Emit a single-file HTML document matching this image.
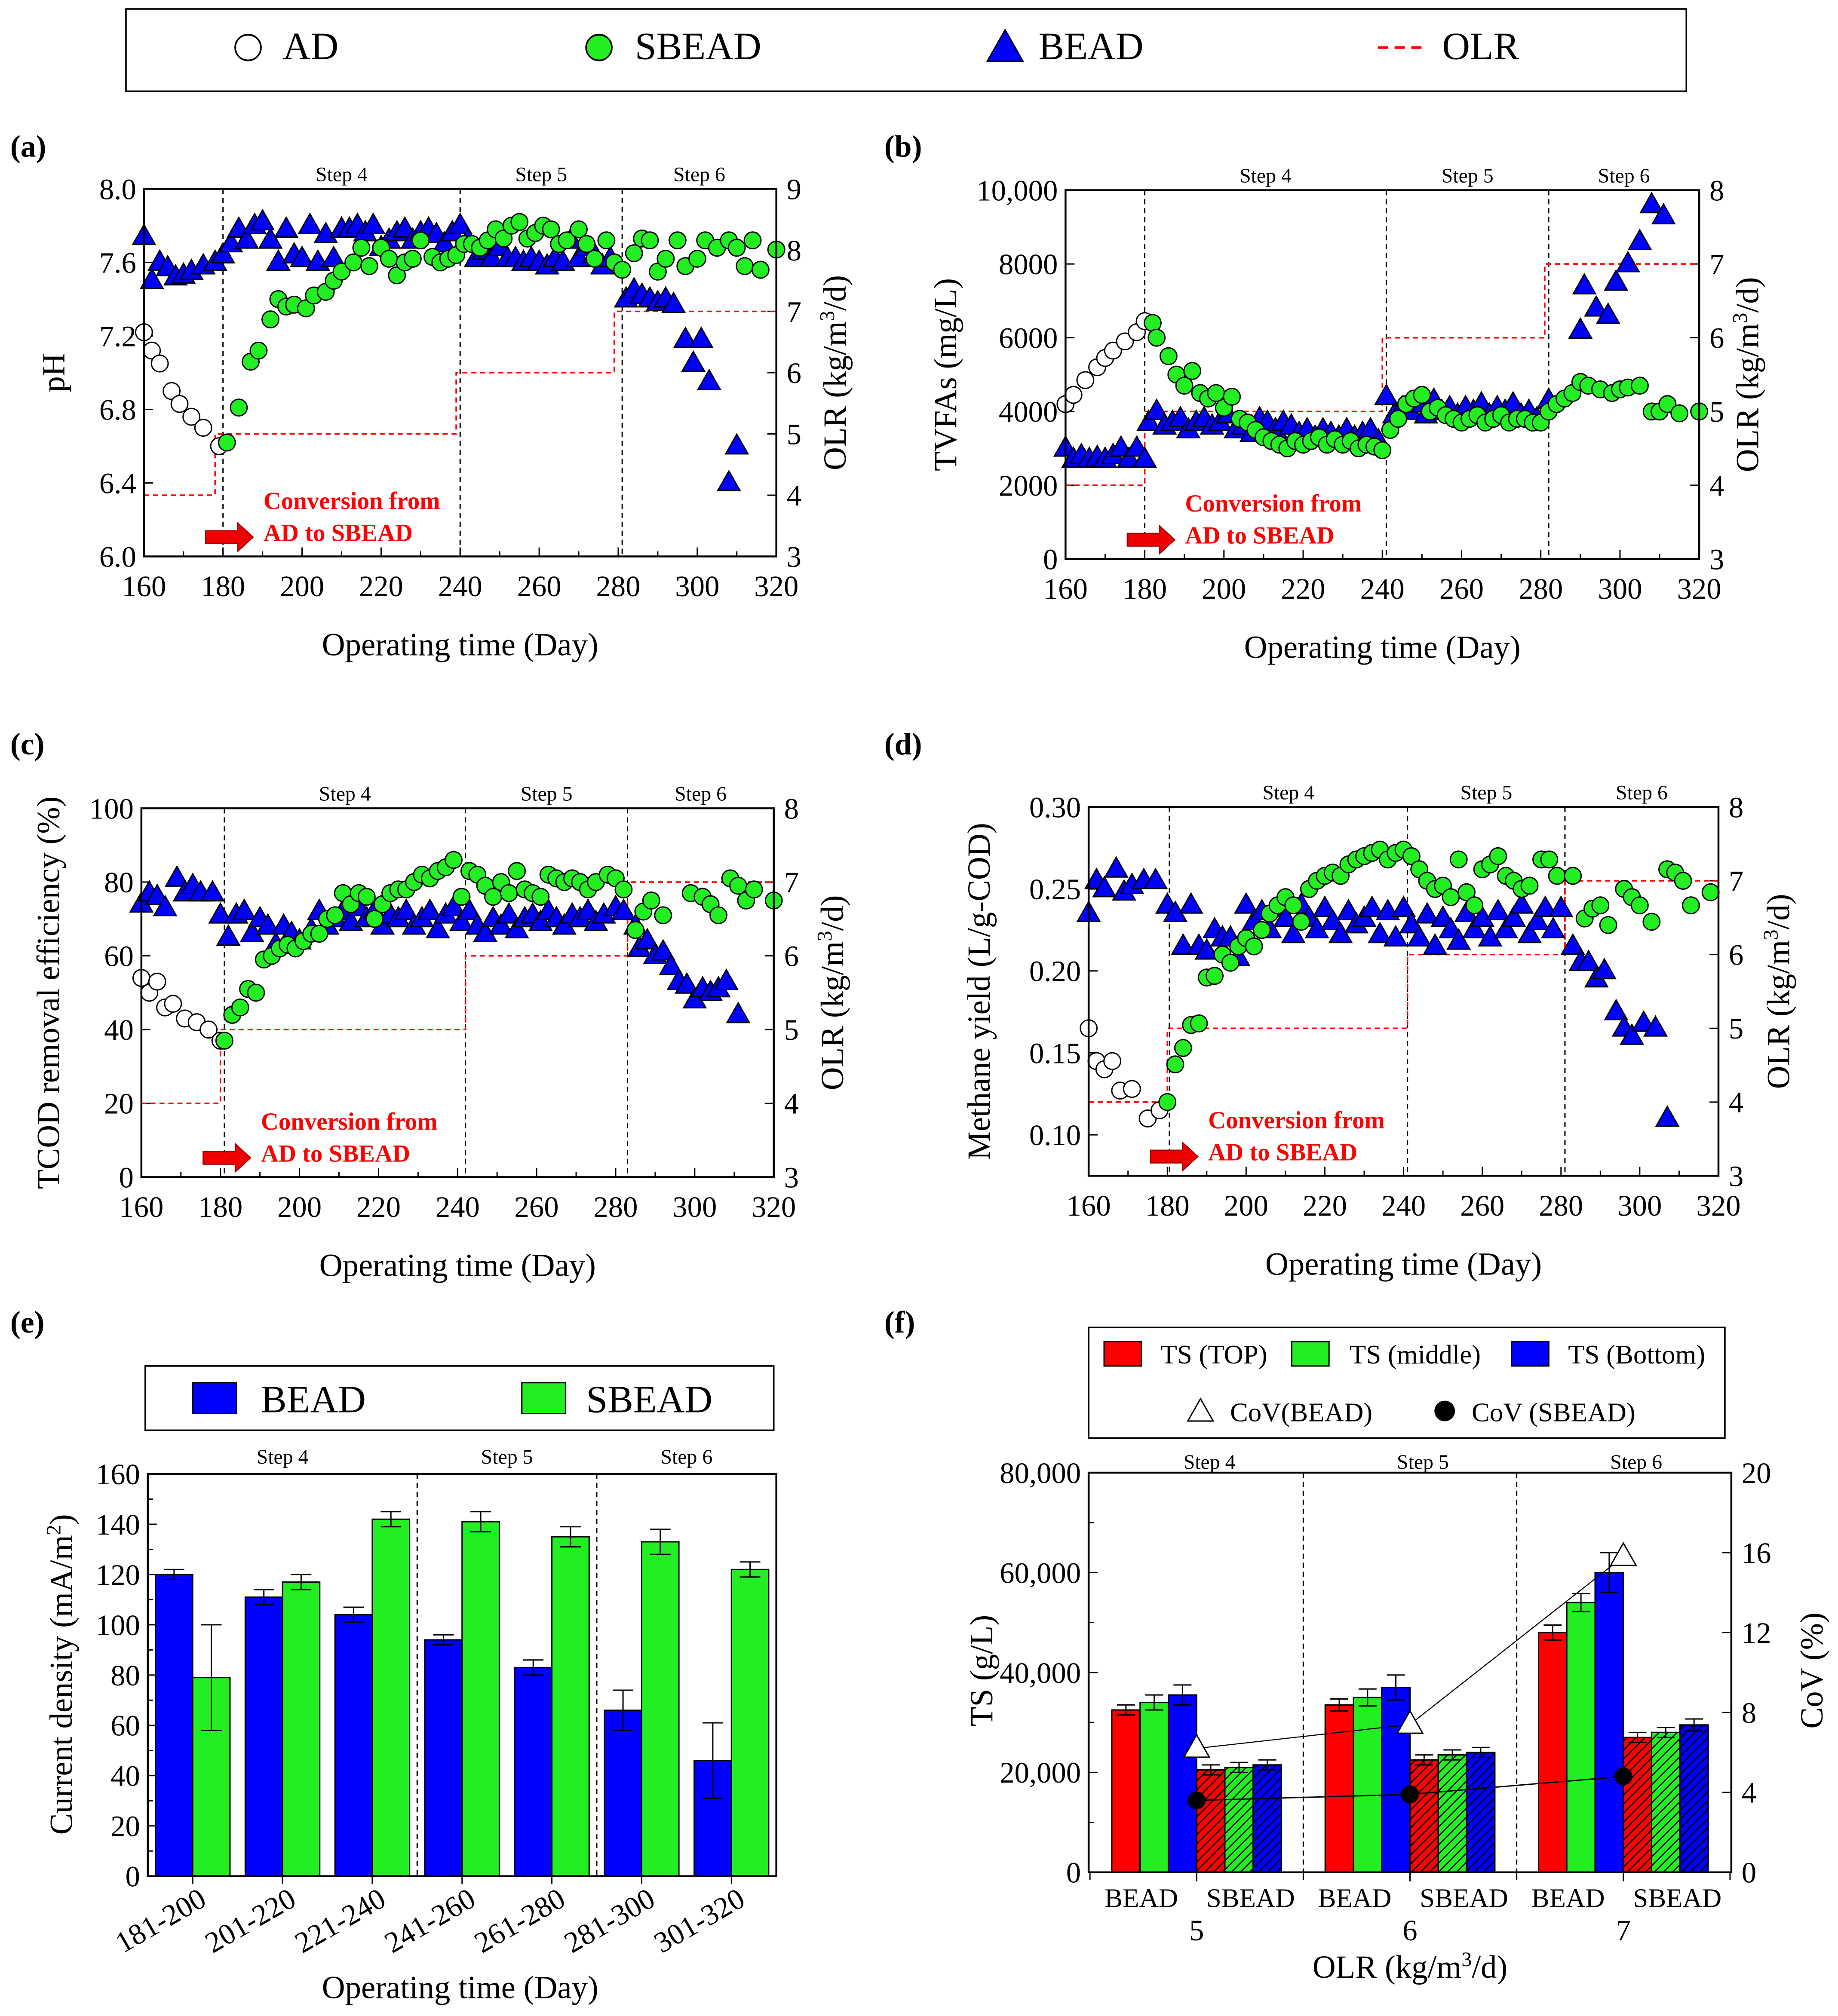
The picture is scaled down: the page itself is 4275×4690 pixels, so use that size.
<!DOCTYPE html>
<html><head><meta charset="utf-8"><style>html,body{margin:0;padding:0;background:#fff}svg{display:block}svg text{font-family:"Liberation Serif","Times New Roman",serif}</style></head>
<body>
<svg id="chart" xmlns="http://www.w3.org/2000/svg" width="4275" height="4690" viewBox="0 0 1430 1568.8" font-family="Liberation Serif, serif">
<defs><pattern id="hatch" patternUnits="userSpaceOnUse" width="7" height="7"><path d="M-1,1 l2,-2 M0,7 l7,-7 M6,8 l2,-2" stroke="#000" stroke-width="0.9"/></pattern></defs>
<rect x="0" y="0" width="1430" height="1568.8" fill="#fff"/>
</svg>
<script>
// ---------------- DATA ----------------
const days=[160,180,200,220,240,260,280,300,320];
const phAD=[[160,7.22],[162,7.12],[164,7.05],[167,6.9],[169,6.83],[172,6.76],[175,6.7],[179,6.6]];
const phSBEAD=[[181,6.62],[184,6.81],[187,7.06],[189,7.12],[192,7.29],[194,7.4],[196,7.36],[198,7.37],[201,7.35],[203,7.42],[206,7.44],[208,7.5],[210,7.55],[213,7.6],[215,7.68],[217,7.58],[220,7.68],[222,7.62],[224,7.53],[226,7.6],[228,7.62],[230,7.72],[233,7.63],[235,7.6],[237,7.62],[239,7.64],[241,7.7],[243,7.7],[245,7.68],[247,7.72],[249,7.78],[251,7.73],[253,7.8],[255,7.82],[257,7.73],[259,7.76],[261,7.8],[263,7.78],[265,7.7],[267,7.72],[270,7.78],[272,7.7],[274,7.62],[277,7.72],[279,7.6],[281,7.56],[284,7.65],[286,7.73],[288,7.72],[290,7.55],[292,7.62],[295,7.72],[297,7.58],[300,7.62],[302,7.72],[305,7.68],[308,7.72],[310,7.68],[312,7.58],[314,7.72],[316,7.56],[320,7.67]];
const phBEAD=[[160,7.74],[162,7.5],[164,7.6],[166,7.57],[168,7.52],[170,7.53],[172,7.55],[175,7.58],[178,7.6],[180,7.64],[182,7.7],[184,7.78],[186,7.72],[188,7.8],[190,7.82],[192,7.72],[194,7.6],[196,7.78],[198,7.64],[200,7.62],[202,7.8],[204,7.6],[206,7.75],[208,7.62],[210,7.78],[212,7.78],[214,7.8],[216,7.76],[218,7.8],[220,7.68],[222,7.72],[224,7.76],[226,7.78],[228,7.72],[230,7.76],[232,7.78],[234,7.75],[236,7.7],[238,7.76],[240,7.8],[242,7.72],[244,7.62],[246,7.66],[248,7.62],[250,7.68],[252,7.62],[254,7.62],[256,7.6],[258,7.62],[260,7.6],[262,7.58],[264,7.62],[266,7.6],[268,7.72],[270,7.62],[272,7.68],[274,7.64],[276,7.58],[278,7.62],[282,7.4],[284,7.45],[286,7.42],[288,7.4],[290,7.38],[292,7.4],[294,7.37],[297,7.18],[299,7.05],[301,7.18],[303,6.95],[308,6.4],[310,6.6]];
const olrA=[[160,4],[178,4],[178,5],[239,5],[239,6],[279,6],[279,7],[320,7]];

const vfaAD=[[160,4200],[162,4450],[165,4850],[168,5200],[170,5450],[172,5650],[175,5900],[178,6150],[180,6450]];
const vfaSBEAD=[[182,6400],[183,6000],[186,5500],[188,5000],[190,4700],[192,5100],[194,4500],[196,4350],[198,4500],[200,4100],[202,4400],[204,3800],[206,3700],[208,3500],[210,3300],[212,3200],[214,3100],[216,3000],[218,3200],[220,3100],[222,3200],[224,3300],[226,3100],[228,3250],[230,3100],[232,3200],[234,3000],[236,3100],[238,3050],[240,2950],[242,3500],[244,3800],[246,4200],[248,4350],[250,4450],[252,4000],[254,4100],[256,3900],[258,3800],[260,3700],[262,3800],[264,3900],[266,3700],[268,3800],[270,3900],[272,3700],[274,3800],[276,3800],[278,3700],[280,3700],[282,4000],[284,4200],[286,4350],[288,4500],[290,4800],[292,4700],[295,4600],[298,4500],[300,4600],[302,4650],[305,4700],[308,4000],[310,4000],[312,4200],[315,3950],[320,4000]];
const vfaBEAD=[[160,3000],[162,2700],[164,2800],[166,2700],[168,2750],[170,2700],[172,2800],[174,3000],[176,2700],[178,3000],[180,2700],[181,3700],[183,4000],[185,3600],[187,3700],[189,3800],[191,3500],[193,3700],[195,3800],[197,3600],[199,3700],[201,3900],[203,3500],[205,3600],[207,3400],[209,3800],[211,3700],[213,3500],[215,3700],[217,3600],[219,3400],[221,3500],[223,3300],[225,3500],[227,3400],[229,3300],[231,3500],[233,3300],[235,3400],[237,3500],[239,3200],[241,4400],[243,3900],[245,4100],[247,4000],[249,4200],[251,3900],[253,4300],[255,4000],[257,4100],[259,3900],[261,4100],[263,4000],[265,4200],[267,3900],[269,4100],[271,4000],[273,4200],[275,3900],[277,4000],[279,3800],[282,4300],[290,6200],[291,7400],[294,6800],[297,6600],[299,7500],[302,8000],[305,8600],[308,9600],[311,9300]];
const olrB=[[160,4],[180,4],[180,5],[240,5],[240,6],[281,6],[281,7],[320,7]];

const codAD=[[160,54],[162,50],[164,53],[166,46],[168,47],[171,43],[174,42],[177,40],[180,37]];
const codSBEAD=[[181,37],[183,44],[185,46],[187,51],[189,50],[191,59],[193,60],[195,62],[197,63],[199,62],[201,64],[203,66],[205,66],[207,70],[209,71],[211,77],[213,74],[215,77],[217,76],[219,70],[221,74],[223,77],[225,78],[227,78],[229,80],[231,82],[233,81],[235,83],[237,84],[239,86],[241,76],[243,83],[245,82],[247,79],[249,76],[251,80],[253,77],[255,83],[257,78],[259,77],[261,76],[263,82],[265,81],[267,80],[269,81],[271,80],[273,78],[275,80],[278,82],[280,81],[282,78],[285,67],[287,72],[289,75],[292,71],[299,77],[302,76],[304,74],[306,71],[309,81],[311,79],[313,75],[315,78],[320,75]];
const codBEAD=[[160,74],[162,77],[164,76],[166,73],[169,81],[171,77],[173,79],[175,77],[178,77],[180,71],[182,65],[184,71],[186,72],[188,66],[190,70],[192,68],[194,63],[196,68],[198,66],[200,64],[203,67],[205,72],[207,68],[209,70],[211,72],[213,69],[215,73],[217,70],[219,72],[221,68],[223,71],[225,70],[227,72],[229,68],[231,70],[233,72],[235,67],[237,71],[239,73],[241,69],[243,72],[245,68],[247,66],[249,70],[251,68],[253,71],[255,67],[257,70],[259,71],[261,69],[263,72],[265,70],[267,68],[269,71],[271,70],[273,72],[275,69],[277,71],[280,73],[282,72],[285,68],[286,62],[288,64],[290,60],[292,61],[294,57],[296,53],[298,52],[300,48],[302,51],[304,50],[306,51],[308,53],[311,44]];
const olrC=[[160,4],[180,4],[180,5],[242,5],[242,6],[283,6],[283,7],[320,7]];

const myAD=[[160,0.165],[162,0.145],[164,0.14],[166,0.145],[168,0.127],[171,0.128],[175,0.11],[178,0.115]];
const mySBEAD=[[180,0.12],[182,0.143],[184,0.153],[186,0.167],[188,0.168],[190,0.196],[192,0.197],[194,0.21],[196,0.205],[198,0.215],[200,0.22],[202,0.215],[204,0.225],[206,0.235],[208,0.24],[210,0.245],[212,0.24],[214,0.23],[216,0.25],[218,0.255],[220,0.258],[222,0.26],[224,0.258],[226,0.265],[228,0.268],[230,0.27],[232,0.272],[234,0.274],[236,0.268],[238,0.272],[240,0.274],[242,0.27],[244,0.262],[246,0.255],[248,0.25],[250,0.252],[252,0.245],[254,0.268],[256,0.248],[258,0.24],[260,0.262],[262,0.265],[264,0.27],[266,0.258],[268,0.255],[270,0.25],[272,0.252],[275,0.268],[277,0.268],[279,0.258],[283,0.258],[286,0.232],[288,0.238],[290,0.24],[292,0.228],[296,0.25],[298,0.245],[300,0.24],[303,0.23],[307,0.262],[309,0.26],[311,0.255],[313,0.24],[318,0.248]];
const myBEAD=[[160,0.235],[162,0.255],[164,0.25],[167,0.262],[169,0.248],[171,0.252],[174,0.255],[177,0.255],[180,0.24],[182,0.235],[184,0.215],[186,0.24],[188,0.215],[190,0.212],[192,0.225],[194,0.22],[196,0.22],[198,0.208],[200,0.24],[202,0.23],[204,0.236],[206,0.225],[208,0.238],[210,0.232],[212,0.222],[214,0.24],[216,0.232],[218,0.225],[220,0.238],[222,0.23],[224,0.222],[226,0.236],[228,0.228],[230,0.232],[232,0.238],[234,0.222],[236,0.236],[238,0.22],[240,0.238],[242,0.228],[244,0.22],[246,0.234],[248,0.215],[250,0.232],[252,0.225],[254,0.218],[256,0.235],[258,0.225],[260,0.232],[262,0.22],[264,0.236],[266,0.225],[268,0.232],[270,0.24],[272,0.222],[274,0.23],[276,0.238],[278,0.225],[280,0.238],[283,0.215],[285,0.205],[287,0.205],[289,0.195],[291,0.2],[294,0.175],[296,0.165],[298,0.16],[301,0.168],[304,0.165],[307,0.11]];
const olrD=[[160,4],[180,4],[180,5],[241,5],[241,6],[281,6],[281,7],[320,7]];

const cdCategories=['181-200','201-220','221-240','241-260','261-280','281-300','301-320'];
const cdBEAD=[120,111,104,94,83,66,46];
const cdBEADerr=[2,3,3,2,3,8,15];
const cdSBEAD=[79,117,142,141,135,133,122];
const cdSBEADerr=[21,3,3,4,4,5,3];

const olrGroups=['5','6','7'];
const tsBEAD=[[32500,34000,35500],[33500,35000,37000],[48000,54000,60000]];
const tsBEADerr=[[1000,1500,2000],[1200,1700,2500],[1500,1800,4000]];
const tsSBEAD=[[20500,21000,21500],[22500,23500,24000],[27000,28000,29500]];
const tsSBEADerr=[[1000,1000,1000],[1000,1000,1000],[1000,1000,1200]];
const covBEAD=[6.2,7.4,15.8];
const covSBEAD=[3.6,3.9,4.8];

// ---------------- HELPERS ----------------
const NS='http://www.w3.org/2000/svg';
const svg=document.getElementById('chart');
function mk(tag,attrs,parent){const e=document.createElementNS(NS,tag);for(const k in attrs)e.setAttribute(k,attrs[k]);(parent||svg).appendChild(e);return e;}
function txt(x,y,s,attrs,parent){const t=mk('text',Object.assign({x:x,y:y},attrs||{}),parent);t.textContent=s;return t;}
function olrTitle(x,y,parent,size){
  const t=mk('text',{x:0,y:0,'font-size':size,'text-anchor':'middle',transform:'translate('+x+','+y+') rotate(-90)'},parent);
  const a=mk('tspan',{},t);a.textContent='OLR (kg/m';
  const b=mk('tspan',{dy:-9,'font-size':size*0.65},t);b.textContent='3';
  const c=mk('tspan',{dy:9},t);c.textContent='/d)';
  return t;
}
function tri(x,y,s,fill,parent){return mk('path',{d:'M'+x+','+(y-s*0.62)+' L'+(x+s*0.58)+','+(y+s*0.4)+' L'+(x-s*0.58)+','+(y+s*0.4)+'Z',fill:fill,stroke:'#000','stroke-width':1},parent);}

function timePanel(c){
  const g=mk('g',{});
  
  
  const sx=d=>c.x0+(d-160)/160*(c.x1-c.x0);
  const sy=v=>c.y1-(v-c.lmin)/(c.lmax-c.lmin)*(c.y1-c.y0);
  const sr=v=>c.y1-(v-c.rmin)/(c.rmax-c.rmin)*(c.y1-c.y0);
  days.forEach((d,i)=>{
    mk('line',{x1:sx(d),x2:sx(d),y1:c.y1,y2:c.y1-7,stroke:'#000'},g);
    if(i<days.length-1) mk('line',{x1:sx(d+10),x2:sx(d+10),y1:c.y1,y2:c.y1-4,stroke:'#000'},g);
    const t=txt(sx(d),c.y1+31,String(d),{'font-size':23,'text-anchor':'middle'},g);
    
    
  });
  c.lticks.forEach((v,i)=>{
    mk('line',{x1:c.x0,x2:c.x0+7,y1:sy(v),y2:sy(v),stroke:'#000'},g);
    const t=txt(c.x0-6,sy(v)+8,c.llabels[i],{'font-size':23,'text-anchor':'end'},g);
    
    
  });
  for(let v=c.rmin;v<=c.rmax;v++){
    mk('line',{x1:c.x1,x2:c.x1-7,y1:sr(v),y2:sr(v),stroke:'#000'},g);
    const t=txt(c.x1+8,sr(v)+8,String(v),{'font-size':23},g);
    
    
  }
  c.vlines.forEach(d=>{mk('line',{x1:sx(d),x2:sx(d),y1:c.y0,y2:c.y1,stroke:'#000','stroke-width':1,'stroke-dasharray':'4,3'},g);});
  const bounds=[c.vlines[0],c.vlines[1],c.vlines[2],320];
  ['Step 4','Step 5','Step 6'].forEach((s,i)=>{
    const t=txt((sx(bounds[i])+sx(bounds[i+1]))/2,c.y0-6,s,{'font-size':16,'text-anchor':'middle'},g);
    
    
  });
  const ol=mk('polyline',{points:c.olr.map(p=>sx(p[0])+','+sr(p[1])).join(' '),fill:'none',stroke:'#f00','stroke-width':1.2,'stroke-dasharray':'4,3'},g);
  
  
  c.ad.forEach(p=>{const e=mk('circle',{cx:sx(p[0]),cy:sy(p[1]),r:6.5,fill:'#fff',stroke:'#000','stroke-width':1},g);
    
    });
  c.bead.forEach(p=>{const e=tri(sx(p[0]),sy(p[1]),15,'#0000ff',g);
    
    });
  c.sbead.forEach(p=>{const e=mk('circle',{cx:sx(p[0]),cy:sy(p[1]),r:6.5,fill:'#22ee22',stroke:'#000','stroke-width':1},g);
    
    });
  mk('rect',{x:c.x0,y:c.y0,width:c.x1-c.x0,height:c.y1-c.y0,fill:'none',stroke:'#000','stroke-width':1.5},g);
  const ax=c.x0+48, ay=c.y1-15;
  const ar=mk('path',{d:'M'+ax+','+(ay-5)+' h25 v-6 l12,11 l-12,11 v-6 h-25z',fill:'#e00',stroke:'#900','stroke-width':0.8},g);
  
  
  txt(ax+45,ay-22,'Conversion from',{'font-size':19,'font-weight':'bold',fill:'#f00'},g);
  txt(ax+45,ay+3,'AD to SBEAD',{'font-size':19,'font-weight':'bold',fill:'#f00'},g);
  const xt=txt((c.x0+c.x1)/2,c.y1+77,'Operating time (Day)',{'font-size':25,'text-anchor':'middle'},g);
  
  
  const yt=txt(0,0,c.ltitle,{'font-size':25,'text-anchor':'middle',transform:'translate('+c.ltx+','+((c.y0+c.y1)/2)+') rotate(-90)'},g);
  
  
  const rt=olrTitle(c.rtx,(c.y0+c.y1)/2,g,25);
  
  
  const pl=txt(c.px,c.py,c.label,{'font-size':24,'font-weight':'bold'},g);
  
  
}

// ---------------- TOP LEGEND ----------------
const lg=mk('g',{});


mk('rect',{x:98,y:7,width:1214,height:64,fill:'#fff',stroke:'#000','stroke-width':1.2},lg);
mk('circle',{cx:193,cy:37,r:10,fill:'#fff',stroke:'#000','stroke-width':1.3},lg);
txt(220,46,'AD',{'font-size':30},lg);
mk('circle',{cx:466,cy:37,r:10,fill:'#22ee22',stroke:'#000','stroke-width':1.3},lg);
txt(494,46,'SBEAD',{'font-size':30},lg);
tri(782,38,24,'#0000ff',lg);
txt(808,46,'BEAD',{'font-size':30},lg);
mk('line',{x1:1072,x2:1110,y1:37,y2:37,stroke:'#f00','stroke-width':2,'stroke-dasharray':'8,5'},lg);
txt(1122,46,'OLR',{'font-size':30},lg);

// ---------------- PANELS a-d ----------------
timePanel({name:'panel-a-ph',label:'(a)',px:8,py:122,x0:112,x1:604,y0:147,y1:433,lmin:6,lmax:8,rmin:3,rmax:9,
  lticks:[6,6.4,6.8,7.2,7.6,8],llabels:['6.0','6.4','6.8','7.2','7.6','8.0'],vlines:[180,240,281],olr:olrA,
  ad:phAD,sbead:phSBEAD,bead:phBEAD,ltitle:'pH',ltx:50,rtx:658});
timePanel({name:'panel-b-tvfa',label:'(b)',px:688,py:122,x0:829,x1:1322,y0:148,y1:435,lmin:0,lmax:10000,rmin:3,rmax:8,
  lticks:[0,2000,4000,6000,8000,10000],llabels:['0','2000','4000','6000','8000','10,000'],vlines:[180,241,282],olr:olrB,
  ad:vfaAD,sbead:vfaSBEAD,bead:vfaBEAD,ltitle:'TVFAs (mg/L)',ltx:744,rtx:1368});
timePanel({name:'panel-c-tcod',label:'(c)',px:8,py:587,x0:110,x1:602,y0:629,y1:916,lmin:0,lmax:100,rmin:3,rmax:8,
  lticks:[0,20,40,60,80,100],llabels:['0','20','40','60','80','100'],vlines:[181,242,283],olr:olrC,
  ad:codAD,sbead:codSBEAD,bead:codBEAD,ltitle:'TCOD removal efficiency (%)',ltx:46,rtx:656});
timePanel({name:'panel-d-methane',label:'(d)',px:688,py:587,x0:847,x1:1337,y0:628,y1:915,lmin:0.075,lmax:0.30,rmin:3,rmax:8,
  lticks:[0.10,0.15,0.20,0.25,0.30],llabels:['0.10','0.15','0.20','0.25','0.30'],vlines:[180.5,241,281],olr:olrD,
  ad:myAD,sbead:mySBEAD,bead:myBEAD,ltitle:'Methane yield (L/g-COD)',ltx:770,rtx:1392});

// ---------------- PANEL e ----------------
(function(){
  const g=mk('g',{});
  
  
  const x0=115,x1=604,y0=1147,y1=1460,step=(x1-x0)/cdCategories.length,bw=29;
  const sy=v=>y1-v/160*(y1-y0);
  for(let v=0;v<=160;v+=20){
    mk('line',{x1:x0,x2:x0+7,y1:sy(v),y2:sy(v),stroke:'#000'},g);
    if(v<160) mk('line',{x1:x0,x2:x0+4,y1:sy(v+10),y2:sy(v+10),stroke:'#000'},g);
    txt(x0-6,sy(v)+8,String(v),{'font-size':23,'text-anchor':'end'},g);
  }
  [3,5].forEach(i=>mk('line',{x1:x0+step*i,x2:x0+step*i,y1:y0,y2:y1,stroke:'#000','stroke-dasharray':'4,3'},g));
  [[0,3,'Step 4'],[3,5,'Step 5'],[5,7,'Step 6']].forEach(s=>txt(x0+step*(s[0]+s[1])/2,y0-8,s[2],{'font-size':16,'text-anchor':'middle'},g));
  function errbar(x,v,e){mk('line',{x1:x,x2:x,y1:sy(v+e),y2:sy(v-e),stroke:'#000'},g);
    mk('line',{x1:x-8,x2:x+8,y1:sy(v+e),y2:sy(v+e),stroke:'#000'},g);
    mk('line',{x1:x-8,x2:x+8,y1:sy(v-e),y2:sy(v-e),stroke:'#000'},g);}
  cdCategories.forEach((cat,i)=>{
    const cx=x0+step*(i+0.5);
    const b=mk('rect',{x:cx-bw,y:sy(cdBEAD[i]),width:bw,height:y1-sy(cdBEAD[i]),fill:'#0000ff',stroke:'#000','stroke-width':1},g);
    
    
    const s=mk('rect',{x:cx,y:sy(cdSBEAD[i]),width:bw,height:y1-sy(cdSBEAD[i]),fill:'#22ee22',stroke:'#000','stroke-width':1},g);
    
    
    errbar(cx-bw/2,cdBEAD[i],cdBEADerr[i]);
    errbar(cx+bw/2,cdSBEAD[i],cdSBEADerr[i]);
    mk('line',{x1:cx,x2:cx,y1:y1,y2:y1+6,stroke:'#000'},g);
    const t=txt(0,0,cat,{'font-size':23,'text-anchor':'end',transform:'translate('+(cx+12)+','+(y1+22)+') rotate(-30)'},g);
    
    
  });
  mk('rect',{x:x0,y:y0,width:x1-x0,height:y1-y0,fill:'none',stroke:'#000','stroke-width':1.5},g);
  const lgd=mk('g',{},g);
  
  
  mk('rect',{x:113,y:1063,width:489,height:50,fill:'#fff',stroke:'#000','stroke-width':1.2},lgd);
  mk('rect',{x:150,y:1076,width:34,height:24,fill:'#0000ff',stroke:'#000'},lgd);
  txt(203,1099,'BEAD',{'font-size':30},lgd);
  mk('rect',{x:406,y:1076,width:34,height:24,fill:'#22ee22',stroke:'#000'},lgd);
  txt(456,1099,'SBEAD',{'font-size':30},lgd);
  txt(358,1555,'Operating time (Day)',{'font-size':25,'text-anchor':'middle'},g);
  const yt=mk('text',{x:0,y:0,'font-size':25,'text-anchor':'middle',transform:'translate(56,1303) rotate(-90)'},g);
  const a=mk('tspan',{},yt);a.textContent='Current density (mA/m';
  const b=mk('tspan',{dy:-9,'font-size':16},yt);b.textContent='2';
  const c=mk('tspan',{dy:9},yt);c.textContent=')';
  txt(8,1037,'(e)',{'font-size':24,'font-weight':'bold'},g);
})();

// ---------------- PANEL f ----------------
(function(){
  const g=mk('g',{});
  
  
  const x0=847,x1=1347,y0=1146,y1=1457,gstep=166,c0=931,bw=22;
  const sy=v=>y1-v/80000*(y1-y0);
  const sc=v=>y1-v/20*(y1-y0);
  const labs=['0','20,000','40,000','60,000','80,000'];
  for(let i=0;i<=4;i++){const v=i*20000;
    mk('line',{x1:x0,x2:x0+7,y1:sy(v),y2:sy(v),stroke:'#000'},g);
    if(i<4) mk('line',{x1:x0,x2:x0+4,y1:sy(v+10000),y2:sy(v+10000),stroke:'#000'},g);
    txt(x0-6,sy(v)+8,labs[i],{'font-size':23,'text-anchor':'end'},g);}
  for(let v=0;v<=20;v+=4){
    mk('line',{x1:x1,x2:x1-7,y1:sc(v),y2:sc(v),stroke:'#000'},g);
    txt(x1+8,sc(v)+8,String(v),{'font-size':23},g);}
  [c0+gstep/2,c0+gstep*1.5].forEach(x=>mk('line',{x1:x,x2:x,y1:y0,y2:y1,stroke:'#000','stroke-dasharray':'4,3'},g));
  ['Step 4','Step 5','Step 6'].forEach((s,i)=>txt(c0+gstep*i+10,y0-3,s,{'font-size':16,'text-anchor':'middle'},g));
  const cols=['#ff0000','#22ee22','#0000ff'];
  function errbar(x,v,e){mk('line',{x1:x,x2:x,y1:sy(v+e),y2:sy(v-e),stroke:'#000'},g);
    mk('line',{x1:x-7,x2:x+7,y1:sy(v+e),y2:sy(v+e),stroke:'#000'},g);
    mk('line',{x1:x-7,x2:x+7,y1:sy(v-e),y2:sy(v-e),stroke:'#000'},g);}
  olrGroups.forEach((grp,gi)=>{
    const cx=c0+gstep*gi;
    for(let k=0;k<3;k++){
      const xb=cx-bw*(3-k);
      const r=mk('rect',{x:xb,y:sy(tsBEAD[gi][k]),width:bw,height:y1-sy(tsBEAD[gi][k]),fill:cols[k],stroke:'#000','stroke-width':1},g);
      
      
      errbar(xb+bw/2,tsBEAD[gi][k],tsBEADerr[gi][k]);
      const xs=cx+bw*k;
      const s=mk('rect',{x:xs,y:sy(tsSBEAD[gi][k]),width:bw,height:y1-sy(tsSBEAD[gi][k]),fill:cols[k],stroke:'#000','stroke-width':1},g);
      
      
      mk('rect',{x:xs,y:sy(tsSBEAD[gi][k]),width:bw,height:y1-sy(tsSBEAD[gi][k]),fill:'url(#hatch)',stroke:'#000','stroke-width':1},g);
      errbar(xs+bw/2,tsSBEAD[gi][k],tsSBEADerr[gi][k]);
    }
    mk('line',{x1:cx,x2:cx,y1:y1,y2:y1+7,stroke:'#000'},g);
    txt(cx-43,y1+27,'BEAD',{'font-size':21,'text-anchor':'middle'},g);
    txt(cx+42,y1+27,'SBEAD',{'font-size':21,'text-anchor':'middle'},g);
    const t=txt(cx,y1+53,grp,{'font-size':23,'text-anchor':'middle'},g);
    
    
  });
  [c0-gstep/2,c0+gstep/2,c0+gstep*1.5,c0+gstep*2.5].forEach(x=>{if(x>x0&&x<x1)mk('line',{x1:x,x2:x,y1:y1,y2:y1+6,stroke:'#000'},g);});
  const lb=mk('polyline',{points:covBEAD.map((v,i)=>(c0+gstep*i)+','+sc(v)).join(' '),fill:'none',stroke:'#000','stroke-width':0.8},g);
  
  
  const ls=mk('polyline',{points:covSBEAD.map((v,i)=>(c0+gstep*i)+','+sc(v)).join(' '),fill:'none',stroke:'#000','stroke-width':1},g);
  
  
  covBEAD.forEach((v,i)=>{const e=tri(c0+gstep*i,sc(v),17,'#fff',g);
    
    });
  covSBEAD.forEach((v,i)=>{const e=mk('circle',{cx:c0+gstep*i,cy:sc(v),r:7,fill:'#000'},g);
    
    });
  mk('rect',{x:x0,y:y0,width:x1-x0,height:y1-y0,fill:'none',stroke:'#000','stroke-width':1.5},g);
  const lgd=mk('g',{},g);
  
  
  mk('rect',{x:847,y:1033,width:495,height:86,fill:'#fff',stroke:'#000','stroke-width':1.2},lgd);
  [[859,'#ff0000',903,'TS (TOP)'],[1005,'#22ee22',1050,'TS (middle)'],[1176,'#0000ff',1220,'TS (Bottom)']].forEach(e=>{
    mk('rect',{x:e[0],y:1044,width:29,height:19,fill:e[1],stroke:'#000'},lgd);
    txt(e[2],1061,e[3],{'font-size':21},lgd);});
  tri(934,1099,17,'#fff',lgd);
  txt(957,1106,'CoV(BEAD)',{'font-size':21},lgd);
  mk('circle',{cx:1124,cy:1098,r:8,fill:'#000'},lgd);
  txt(1145,1106,'CoV (SBEAD)',{'font-size':21},lgd);
  const xt=mk('text',{x:1097,y:1539,'font-size':25,'text-anchor':'middle'},g);
  const a=mk('tspan',{},xt);a.textContent='OLR (kg/m';
  const b=mk('tspan',{dy:-9,'font-size':16},xt);b.textContent='3';
  const c=mk('tspan',{dy:9},xt);c.textContent='/d)';
  txt(0,0,'TS (g/L)',{'font-size':25,'text-anchor':'middle',transform:'translate(772,1300) rotate(-90)'},g);
  txt(0,0,'CoV (%)',{'font-size':25,'text-anchor':'middle',transform:'translate(1418,1300) rotate(-90)'},g);
  txt(688,1037,'(f)',{'font-size':24,'font-weight':'bold'},g);
})();
</script>
</body></html>
